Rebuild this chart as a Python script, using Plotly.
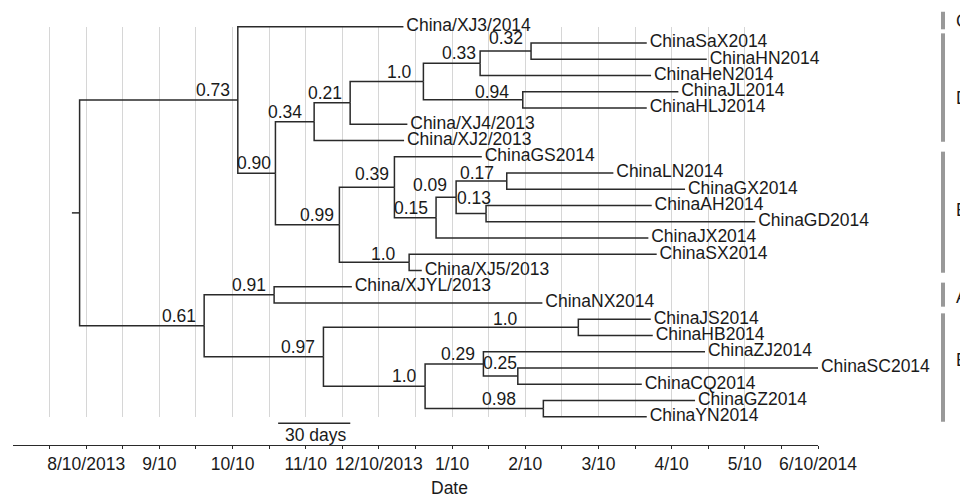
import plotly.graph_objects as go

# ---------------- data ----------------
# time axis: months after 8/10/2013 (uniform monthly scale)
tip_labels = [
    "China/XJ3/2014", "ChinaSaX2014", "ChinaHN2014", "ChinaHeN2014", "ChinaJL2014",
    "ChinaHLJ2014", "China/XJ4/2013", "China/XJ2/2013", "ChinaGS2014", "ChinaLN2014",
    "ChinaGX2014", "ChinaAH2014", "ChinaGD2014", "ChinaJX2014", "ChinaSX2014",
    "China/XJ5/2013", "China/XJYL/2013", "ChinaNX2014", "ChinaJS2014", "ChinaHB2014",
    "ChinaZJ2014", "ChinaSC2014", "ChinaCQ2014", "ChinaGZ2014", "ChinaYN2014",
]
tip_times = [
    4.335, 7.660, 8.480, 7.719, 8.092,
    7.660, 4.389, 4.344, 5.406, 7.204,
    8.183, 7.728, 9.143, 7.682, 7.796,
    4.586, 3.630, 6.234, 7.715, 7.742,
    8.456, 10.000, 7.592, 8.320, 7.660,
]

node_ids = ["root", "n073", "n090", "n034", "n021", "n10a", "n033", "n032", "n094",
            "n099", "n039", "n015", "n009", "n017", "n013", "n10b",
            "n061", "n091", "n097", "n10c", "n10d", "n029", "n025", "n098"]
node_children = [
    ["n073", "n061"],
    ["China/XJ3/2014", "n090"],
    ["n034", "n099"],
    ["n021", "China/XJ2/2013"],
    ["n10a", "China/XJ4/2013"],
    ["n033", "n094"],
    ["n032", "ChinaHeN2014"],
    ["ChinaSaX2014", "ChinaHN2014"],
    ["ChinaJL2014", "ChinaHLJ2014"],
    ["n039", "n10b"],
    ["ChinaGS2014", "n015"],
    ["n009", "ChinaJX2014"],
    ["n017", "n013"],
    ["ChinaLN2014", "ChinaGX2014"],
    ["ChinaAH2014", "ChinaGD2014"],
    ["ChinaSX2014", "China/XJ5/2013"],
    ["n091", "n097"],
    ["China/XJYL/2013", "ChinaNX2014"],
    ["n10c", "n10d"],
    ["ChinaJS2014", "ChinaHB2014"],
    ["n029", "n098"],
    ["ChinaZJ2014", "n025"],
    ["ChinaSC2014", "ChinaCQ2014"],
    ["ChinaGZ2014", "ChinaYN2014"],
]
node_times = [-0.09, 2.072, 2.586, 3.115, 3.607, 4.608, 5.383, 6.079, 5.966,
              3.460, 4.212, 4.781, 5.055, 5.747, 5.464, 4.413,
              1.612, 2.568, 3.242, 6.725, 4.631, 5.428, 5.898, 6.247]
node_support = ["", "0.73", "0.90", "0.34", "0.21", "1.0", "0.33", "0.32", "0.94",
                "0.99", "0.39", "0.15", "0.09", "0.17", "0.13", "1.0",
                "0.61", "0.91", "0.97", "1.0", "1.0", "0.29", "0.25", "0.98"]
root_branch_start = -0.195

tick_vals = list(range(11))
tick_text = ["8/10/2013", "9/10", "10/10", "11/10", "12/10/2013", "1/10",
             "2/10", "3/10", "4/10", "5/10", "6/10/2014"]
minor_tick_vals = [k + 0.5 for k in range(-1, 10)]
grid_vals = [k * 0.5 for k in range(-1, 19)]

clade_names = ["C", "D", "E", "A", "B"]

scale_bar_start = 2.623
scale_bar_days = 30
days_per_month = 30.4375

# ---------------- layout helpers (pixel-tuned placement) ----------------
FONT = "Liberation Sans, Arial, sans-serif"
TXT = "#1a1a1a"
LINE = "#2a2a2a"
FS = 17.5
# clade bracket extents / letter rows in tip-row units
CLADE_Y0 = [-0.92, 0.41, 7.69, 15.75, 17.64]
CLADE_Y1 = [0.16, 7.08, 15.14, 17.23, 24.31]
CLADE_LY = [-0.37, 4.41, 11.28, 16.62, 20.51]
# support-label nudges (px): default (-6, -10)
NUDGE = {"n034": (-10, -10), "n10a": (-9, -10), "n032": (-6, -13), "n094": (-12, -8),
         "n039": (-3, -13), "n009": (-7, -12), "n017": (-11, -8), "n013": (7, -16),
         "n10b": (-11, -8), "n10c": (-58, -8), "n025": (1, -13), "n098": (-25, -10),
         "n090": (-2, -10), "n099": (-3, -10), "n033": (-2, -10)}

# page body has an 8px margin: plot geometry is expressed relative to it
ML, MR, MT, MB = 5, 158, 0, 61
PW = 968 - ML - MR          # plot width (px)
PH = 498 - MT - MB          # plot height (px)
SCREEN_LEFT = 13            # screen x of plot-area left edge
SCREEN_AXIS = 445           # screen y of the x-axis line

# ---------------- tree geometry ----------------
time = {n: t for n, t in zip(tip_labels, tip_times)}
time.update({n: t for n, t in zip(node_ids, node_times)})
children = dict(zip(node_ids, node_children))
ypos = {n: i for i, n in enumerate(tip_labels)}


def get_y(n):
    if n not in ypos:
        c = children[n]
        ypos[n] = (get_y(c[0]) + get_y(c[-1])) / 2.0
    return ypos[n]


get_y("root")

lx, ly = [root_branch_start, time["root"], None], [ypos["root"], ypos["root"], None]
for n in node_ids:
    for c in children[n]:
        lx += [time[n], time[n], time[c], None]
        ly += [ypos[n], ypos[c], ypos[c], None]

fig = go.Figure()
# invisible trace to create the grid subplot
fig.add_trace(go.Scatter(x=[0], y=[0.5], mode="markers", marker=dict(opacity=0),
                         hoverinfo="skip", showlegend=False, xaxis="x", yaxis="y"))
fig.add_trace(go.Scatter(x=lx, y=ly, mode="lines", line=dict(color=LINE, width=1.5),
                         hoverinfo="skip", showlegend=False, xaxis="x2", yaxis="y2"))
fig.add_trace(go.Scatter(x=tip_times, y=[ypos[t] for t in tip_labels], mode="markers+text",
                         marker=dict(size=3, opacity=0),
                         text=tip_labels, textposition="middle right",
                         textfont=dict(family=FONT, size=FS, color=TXT),
                         cliponaxis=False, hoverinfo="skip", showlegend=False,
                         xaxis="x2", yaxis="y2"))

annotations = []
for n, s in zip(node_ids, node_support):
    if not s:
        continue
    dx, dy = NUDGE.get(n, (-6, -10))
    annotations.append(dict(x=time[n], y=ypos[n], xref="x2", yref="y2", text=s,
                            showarrow=False, xanchor="right", yanchor="middle",
                            xshift=dx, yshift=-dy,
                            font=dict(family=FONT, size=FS, color=TXT)))

shapes = []
scale_end = scale_bar_start + scale_bar_days / days_per_month
shapes.append(dict(type="line", xref="x2", yref="y2", x0=scale_bar_start, x1=scale_end,
                   y0=24.41, y1=24.41, line=dict(color=LINE, width=1.5)))
annotations.append(dict(x=(scale_bar_start + scale_end) / 2, y=25.13, xref="x2", yref="y2",
                        text=f"{scale_bar_days} days", showarrow=False,
                        xanchor="center", yanchor="middle", xshift=2,
                        font=dict(family=FONT, size=FS, color=TXT)))

bar_x = (943 - SCREEN_LEFT) / PW
let_x = (954 - SCREEN_LEFT) / PW
for name, y0, y1, lyv in zip(clade_names, CLADE_Y0, CLADE_Y1, CLADE_LY):
    shapes.append(dict(type="line", xref="paper", yref="y2", x0=bar_x, x1=bar_x,
                       y0=y0, y1=y1, line=dict(color="#999999", width=4)))
    annotations.append(dict(x=let_x, y=lyv, xref="paper", yref="y2", text=name,
                            showarrow=False, xanchor="left", yanchor="middle",
                            font=dict(family=FONT, size=FS, color=TXT)))

annotations.append(dict(x=(450 - SCREEN_LEFT) / PW, y=-(488 - SCREEN_AXIS) / PH,
                        xref="paper", yref="paper", text="Date", showarrow=False,
                        xanchor="center", yanchor="middle",
                        font=dict(family=FONT, size=FS, color=TXT)))

# y2 range: tip rows are 16.25 px apart, row 0 at screen y 26.7
row0, row_h = 26.7, 16.25
y_top = (SCREEN_AXIS - PH - row0) / row_h
y_bot = (SCREEN_AXIS - row0) / row_h

fig.update_layout(
    width=968, height=498, autosize=False,
    margin=dict(l=ML, r=MR, t=MT, b=MB),
    paper_bgcolor="white", plot_bgcolor="rgba(0,0,0,0)",
    font=dict(family=FONT, size=FS, color=TXT),
    xaxis=dict(domain=[0, 1], anchor="y", range=[-1, 10], tickmode="array",
               tickvals=grid_vals, showticklabels=False, ticks="", showgrid=True,
               gridcolor="#d6d6d6", gridwidth=1, zeroline=False, showline=False),
    yaxis=dict(domain=[(SCREEN_AXIS - 417) / PH, (SCREEN_AXIS - 27) / PH],
               range=[0, 1], visible=False),
    xaxis2=dict(domain=[0, 1], anchor="y2", range=[-1, 10], tickmode="array",
                tickvals=tick_vals, ticktext=tick_text, ticks="outside", ticklen=3,
                tickcolor=LINE, tickwidth=1.2, showline=True, linecolor=LINE, linewidth=1.3,
                showgrid=False, zeroline=False,
                tickfont=dict(family=FONT, size=FS, color=TXT),
                minor=dict(tickmode="array", tickvals=minor_tick_vals, ticks="outside",
                           ticklen=3, tickcolor=LINE, tickwidth=1.2, showgrid=False)),
    yaxis2=dict(domain=[0, 1], anchor="x2", range=[y_bot, y_top], visible=False),
    shapes=shapes, annotations=annotations,
)

fig.write_html("out.html")
